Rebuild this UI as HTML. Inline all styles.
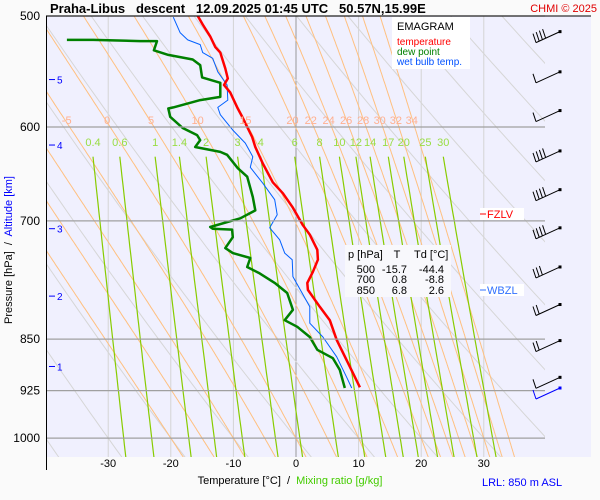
<!DOCTYPE html>
<html><head><meta charset="utf-8"><style>
body{margin:0;background:#fafafa;}
svg{display:block;font-family:"Liberation Sans",sans-serif;}
text{white-space:pre;}
</style></head><body>
<svg id="c" width="600" height="500" xmlns="http://www.w3.org/2000/svg">
<rect x="0" y="0" width="600" height="500" fill="#fafafa"/>
<rect x="46" y="16" width="545" height="441" fill="#f0f0fe"/>
<defs><clipPath id="clip"><rect x="46" y="16" width="499" height="441"/></clipPath></defs>
<g id="grid" clip-path="url(#clip)"></g>
<g id="series" clip-path="url(#clip)"></g>
<g id="overlay"></g>
<line x1="46" y1="16" x2="591" y2="16" stroke="#000"/>
<line x1="46.5" y1="16" x2="46.5" y2="470" stroke="#000"/>
<text x="50" y="13" font-size="13" font-weight="bold">Praha-Libus   descent   12.09.2025 01:45 UTC   50.57N,15.99E</text>
<text x="597" y="12" font-size="11" fill="#e00000" text-anchor="end">CHMI © 2025</text>
<g>
<rect x="392" y="17" width="78" height="52" fill="#fff"/>
<text x="397" y="30" font-size="11">EMAGRAM</text>
<text x="397" y="45" font-size="10" fill="#ff0000">temperature</text>
<text x="397" y="55" font-size="10" fill="#008000">dew point</text>
<text x="397" y="65" font-size="10" fill="#0050ff">wet bulb temp.</text>
</g>
<g font-size="11">
<rect x="345" y="245" width="106" height="52" fill="#f8f8fc"/>
<text x="348" y="258">p [hPa]</text><text x="397" y="258" text-anchor="middle">T</text><text x="414" y="258">Td [°C]</text>
<text x="375" y="273" text-anchor="end">500</text><text x="407" y="273" text-anchor="end">-15.7</text><text x="444" y="273" text-anchor="end">-44.4</text>
<text x="375" y="283" text-anchor="end">700</text><text x="407" y="283" text-anchor="end">0.8</text><text x="444" y="283" text-anchor="end">-8.8</text>
<text x="375" y="294" text-anchor="end">850</text><text x="407" y="294" text-anchor="end">6.8</text><text x="444" y="294" text-anchor="end">2.6</text>
</g>
<g>
<rect x="480" y="208" width="44" height="12" fill="#fff"/>
<line x1="480" y1="214" x2="486" y2="214" stroke="#ff0000"/>
<text x="487" y="218" font-size="11" fill="#ff0000">FZLV</text></g>
<g>
<rect x="480" y="284" width="44" height="12" fill="#fff"/>
<line x1="480" y1="290" x2="486" y2="290" stroke="#3070ff"/>
<text x="487" y="294" font-size="11" fill="#3070ff">WBZL</text></g>
<g>
<text transform="translate(12,250) rotate(-90)" font-size="11" text-anchor="middle"><tspan>Pressure [hPa]  /  </tspan><tspan fill="#0000ff">Altitude [km]</tspan></text></g>
<text x="290" y="484" font-size="11" text-anchor="middle"><tspan>Temperature [°C]  /  </tspan><tspan fill="#44cc00">Mixing ratio [g/kg]</tspan></text>
<text x="482" y="486" font-size="11" fill="#0000ff">LRL: 850 m ASL</text>
</svg>
<script>
const pTicks=[500,600,700,850,925,1000];
const tTicks=[-30,-20,-10,0,10,20,30];
const altKm=[5,4,3,2,1];
const altP=[555,618,709,792,889];
const thetaW=[-20,-15,-10,-5,0,5,10,15,20,22,24,26,28,30,32,34];
const thetaWLabeled=[-5,0,5,10,15,20,22,24,26,28,30,32,34];
const dryTheta=[-40,-30,-20,-10,0,10,20,30,40,50,60,70,80,90,100,110];
const mixRatios=[0.4,0.6,1,1.4,2,3,4,6,8,10,12,14,17,20,25,30];
const tempP=[499,507,517,526,531,545,554,560,567,581,590,600,610,620,637,657,669,685,705,716,734,746,761,775,784,806,824,851,880,920];
const tempT=[-15.8,-14.9,-13.7,-12.9,-12.1,-11.3,-10.9,-11.5,-10.5,-9.4,-8.6,-7.8,-7.0,-6.5,-5.3,-3.7,-2.1,-0.5,1.1,2.2,3.4,3.5,2.7,1.8,1.9,3.8,5.4,6.5,8.1,10.2];
const dewP=[520,520,521,521,529,533,537,542,553,558,571,574,581,582,590,601,608,613,620,625,628,642,651,673,688,697,707,709,710,719,732,738,744,755,763,775,788,810,824,833,847,865,877,894,921];
const dewT=[-36.6,-32.4,-24.9,-22.2,-22.7,-20.4,-16.5,-15.3,-15.0,-12.1,-12.1,-15.3,-19.6,-20.4,-20.1,-18.1,-15.8,-15.3,-16.1,-12.1,-11.0,-9.3,-7.8,-6.9,-6.5,-8.9,-13.7,-13.3,-10.2,-10.1,-11.3,-10.1,-7.3,-7.8,-5.8,-3.4,-1.4,-0.5,-1.8,0.2,2.2,3.4,5.9,7.0,7.8];
const wbP=[501,514,520,524,531,536,548,560,574,581,588,603,616,630,641,658,676,693,708,722,738,746,767,806,828,847,875,905,921];
const wbT=[-19.6,-18.5,-17.3,-15.3,-14.9,-13.3,-12.5,-11.0,-10.9,-12.5,-12.1,-10.1,-8.1,-6.9,-7.3,-5.3,-3.4,-3.0,-4.2,-2.6,-1.8,-0.6,-0.5,2.2,2.2,4.3,6.5,8.1,8.9];
const windP=[513,548,584,624,665,708,755,803,852,905,921];
const windBarbs=[4,1,1,4,4,4,3,2,2,1,1];

const NS='http://www.w3.org/2000/svg';
const X=T=>296+6.26*T;
const Y=p=>16+609*Math.log(p/500);
function mk(tag,attrs,parent){const e=document.createElementNS(NS,tag);for(const k in attrs)e.setAttribute(k,attrs[k]);parent.appendChild(e);return e;}
const grid=document.getElementById('grid'),ser=document.getElementById('series'),ov=document.getElementById('overlay');
const pts=a=>a.map(q=>q[0].toFixed(1)+','+q[1].toFixed(1)).join(' ');

tTicks.concat([-40,40]).forEach(t=>{
  const l=mk('line',{x1:X(t),y1:16,x2:X(t),y2:457,stroke:t===0?'#999':'#d4d4d4','stroke-width':1},grid);
  
  
});
dryTheta.forEach(th=>{
  const a=[];for(let p=480;p<=1040;p+=10){a.push([X((th+273.15)*Math.pow(p/1000,0.286)-273.15),Y(p)]);}
  const l=mk('polyline',{points:pts(a),fill:'none',stroke:'#d6d6d6','stroke-width':1},grid);
  
  
});
function es(T){return 6.112*Math.exp(17.67*T/(T+243.5));}
function rs(T,p){const e=es(T);return 0.622*e/(p-e);}
function dTdp(T,p){const Tk=T+273.15,r=rs(T,p);return (287*Tk+2.5e6*r)/(p*(1004+2.5e6*2.5e6*r*0.622/(287*Tk*Tk)));}
const moistAt={};
thetaW.forEach(tw=>{
  const up=[];let T=tw;for(let p=1000;p>=480;p-=2){up.push([X(T),Y(p)]);if(p===600)moistAt[tw]=T;T-=dTdp(T,p)*2;}
  const dn=[];T=tw;for(let p=1000;p<=1040;p+=2){dn.push([X(T),Y(p)]);T+=dTdp(T,p)*2;}
  const a=up.reverse().concat(dn);
  const l=mk('polyline',{points:pts(a),fill:'none',stroke:'#ffc080','stroke-width':1},grid);
  
  
});
function tdOf(w,p){const e=w*p/(622+w),L=Math.log(e/6.112);return 243.5*L/(17.67-L);}
mixRatios.forEach(w=>{
  const a=[];for(let p=630;p<=1040;p+=10)a.push([X(tdOf(w,p)),Y(p)]);
  const l=mk('polyline',{points:pts(a),fill:'none',stroke:'#88cc00','stroke-width':1.2},grid);
  
  
  const t=mk('text',{x:X(tdOf(w,630)),y:146,'font-size':11,fill:'#99dd44','text-anchor':'middle'},ov);
  t.textContent=String(w);
  
  
});
pTicks.forEach(p=>{
  const l=mk('line',{x1:46,y1:Y(p),x2:545,y2:Y(p),stroke:'#a0a0a0','stroke-width':1.2},ov);
  
  
  const t=mk('text',{x:40,y:Y(p)+4,'font-size':12,'text-anchor':'end'},ov);
  t.textContent=String(p);
  
  
});
thetaWLabeled.forEach(tw=>{
  const t=mk('text',{x:X(moistAt[tw])-3,y:124,'font-size':11,fill:'#ffb090','text-anchor':'middle'},ov);
  t.textContent=String(tw);
  
  
});
tTicks.forEach(t=>{
  const e=mk('text',{x:X(t),y:467,'font-size':11,'text-anchor':'middle'},ov);
  e.textContent=String(t);
  
  
});
altKm.forEach((k,i)=>{
  const y=Y(altP[i]);
  const l=mk('line',{x1:49,y1:y,x2:55,y2:y,stroke:'#0000ff'},ov);
  
  
  const t=mk('text',{x:57,y:y+4,'font-size':10,fill:'#0000ff'},ov);
  t.textContent=String(k);
  
  
});
function series(P,T,color,w,name){
  const a=P.map((p,i)=>[X(T[i]),Y(p)]);
  const l=mk('polyline',{points:pts(a),fill:'none',stroke:color,'stroke-width':w,'stroke-linejoin':'round'},ser);
  
  
}
series(wbP,wbT,'#0060ff',1,'wet-bulb-line');
series(dewP,dewT,'#008000',2.5,'dew-point-line');
series(tempP,tempT,'#ff0000',2.5,'temperature-line');
windP.forEach((p,i)=>{
  const y=Y(p),last=i===windP.length-1,col=last?'#0000ff':'#000';
  const g=mk('g',{stroke:col,'stroke-width':1,fill:'none'},ov);
  
  
  const x0=560,x1=536,y1=y+11;
  mk('line',{x1:x0,y1:y,x2:x1,y2:y1},g);
  mk('rect',{x:x0-1.5,y:y-1.5,width:3,height:3,fill:col,stroke:'none'},g);
  for(let b=0;b<windBarbs[i];b++){
    const bx=x1+b*3.2,by=y1-b*1.5;
    mk('line',{x1:bx,y1:by,x2:bx-3,y2:by-9},g);
  }
});
</script>
</body></html>
